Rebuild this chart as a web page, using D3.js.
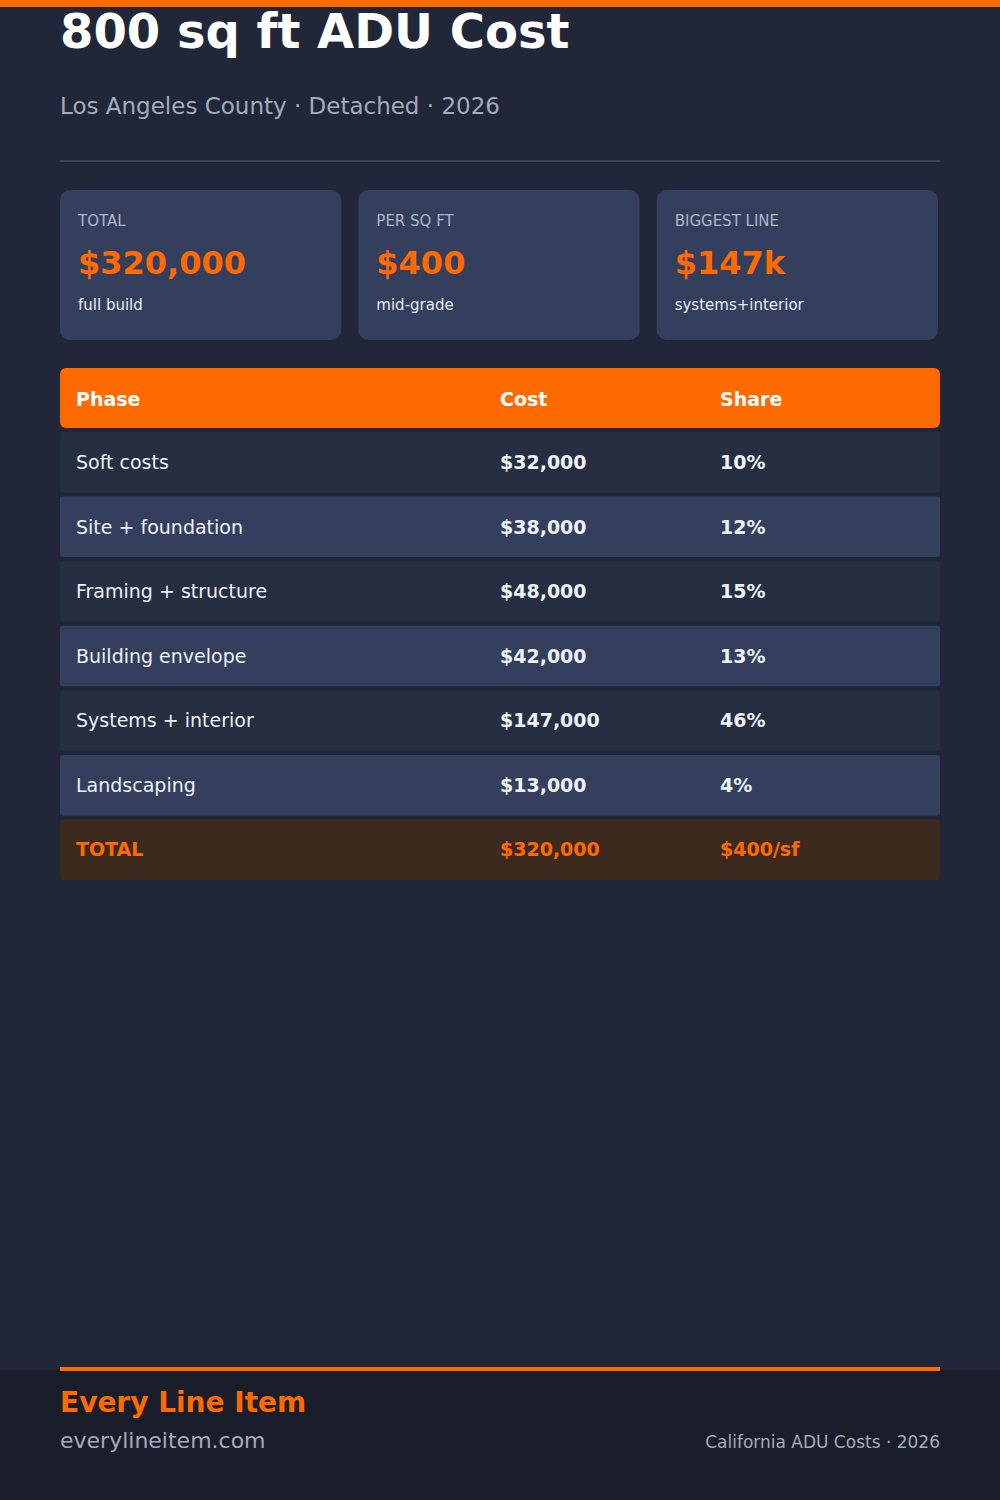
<!DOCTYPE html><html><head><meta charset="utf-8"><script src="https://cdn.jsdelivr.net/npm/d3@7"></script>
<style>body{margin:0;background:#212738}svg{display:block;font-family:"DejaVu Sans",sans-serif}</style></head><body><script>
const phases=["Soft costs","Site + foundation","Framing + structure","Building envelope","Systems + interior","Landscaping"];
const costs=[32000,38000,48000,42000,147000,13000];
const shares=[10,12,15,13,46,4];
const cardLabels=["TOTAL","PER SQ FT","BIGGEST LINE"];
const cardValues=["$320,000","$400","$147k"];
const cardSubs=["full build","mid-grade","systems+interior"];
const headers=["Phase","Cost","Share"];
const totalRow=["TOTAL","$320,000","$400/sf"];
const OR="#ff6a00";
const svg=d3.select("body").append("svg").attr("width",1000).attr("height",1500);
svg.append("rect").attr("width",1000).attr("height",1500).attr("fill","#212738");
svg.append("rect").attr("width",1000).attr("height",7).attr("fill",OR);
svg.append("text").attr("x",60).attr("y",48).attr("fill","#fff").attr("font-size",48).attr("font-weight","bold").text("800 sq ft ADU Cost");
svg.append("text").attr("x",60).attr("y",114).attr("fill","#a3abbd").attr("font-size",23).text("Los Angeles County · Detached · 2026");
svg.append("rect").attr("x",60).attr("y",160).attr("width",880).attr("height",2).attr("fill","#39425a");
const cx=d3.scaleBand().domain(d3.range(3)).range([60,938]).paddingInner(0.057);
const cg=svg.selectAll("g.card").data(cardLabels).join("g").attr("transform",(d,i)=>`translate(${cx(i)},190)`);
cg.append("rect").attr("width",cx.bandwidth()).attr("height",150).attr("rx",10).attr("fill","#343f5e");
cg.append("text").attr("x",18).attr("y",226).attr("y",36).attr("fill","#aeb6c8").attr("font-size",15).text(d=>d);
cg.append("text").attr("x",18).attr("y",84).attr("fill",OR).attr("font-size",32).attr("font-weight","bold").text((d,i)=>cardValues[i]);
cg.append("text").attr("x",18).attr("y",120).attr("fill","#e8ecf4").attr("font-size",15).text((d,i)=>cardSubs[i]);
const colX=[76,500,720];
svg.append("rect").attr("x",60).attr("y",368).attr("width",880).attr("height",60).attr("rx",6).attr("fill",OR);
headers.forEach((h,i)=>svg.append("text").attr("x",colX[i]).attr("y",406).attr("fill","#fff").attr("font-size",19).attr("font-weight","bold").text(h));
const y=d3.scaleBand().domain(d3.range(7)).range([432,880]).paddingInner(4/64);
const fmt=d3.format("$,");
const rows=phases.map((p,i)=>[p,fmt(costs[i]),shares[i]+"%"]);
rows.push(totalRow);
const rg=svg.selectAll("g.row").data(rows).join("g").attr("transform",(d,i)=>`translate(0,${y(i)})`);
rg.append("rect").attr("x",60).attr("width",880).attr("height",y.bandwidth()).attr("rx",3).attr("fill",(d,i)=>i==6?"#3d2a1e":i%2?"#343f5e":"#262e42");
rg.each(function(d,i){const g=d3.select(this);d.forEach((t,j)=>g.append("text").attr("x",colX[j]).attr("y",37).attr("font-size",19).attr("font-weight",(j>0||i==6)?"bold":"normal").attr("fill",i==6?OR:(j==0?"#eef1f7":"#eef1f7")).text(t));});
svg.append("rect").attr("y",1370).attr("width",1000).attr("height",130).attr("fill","#1a1e2a");
svg.append("rect").attr("x",60).attr("y",1367).attr("width",880).attr("height",4).attr("fill",OR);
svg.append("text").attr("x",60).attr("y",1412).attr("fill",OR).attr("font-size",28).attr("font-weight","bold").text("Every Line Item");
svg.append("text").attr("x",60).attr("y",1448).attr("fill","#a3abbd").attr("font-size",22).text("everylineitem.com");
svg.append("text").attr("x",940).attr("y",1448).attr("text-anchor","end").attr("fill","#a3abbd").attr("font-size",17).text("California ADU Costs · 2026");
</script></body></html>
